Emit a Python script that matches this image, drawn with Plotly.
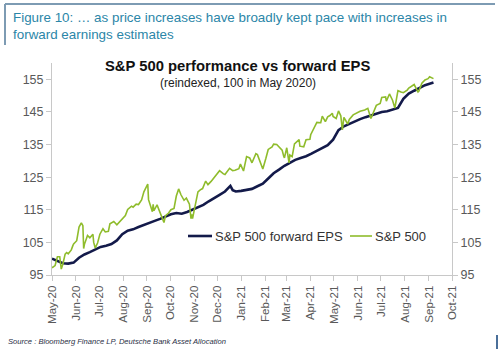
import plotly.graph_objects as go

# S&P 500, reindexed (30 Apr 2020 = 100)
spx_dates = [
    "2020-05-01", "2020-05-05", "2020-05-08", "2020-05-11", "2020-05-13", "2020-05-15",
    "2020-05-18", "2020-05-20", "2020-05-22", "2020-05-26", "2020-05-28", "2020-05-29",
    "2020-06-02", "2020-06-05", "2020-06-08", "2020-06-10", "2020-06-11", "2020-06-12",
    "2020-06-16", "2020-06-19", "2020-06-23", "2020-06-24", "2020-06-26", "2020-06-29",
    "2020-07-02", "2020-07-06", "2020-07-09", "2020-07-13", "2020-07-15", "2020-07-20",
    "2020-07-24", "2020-07-27", "2020-07-31", "2020-08-04", "2020-08-07", "2020-08-12",
    "2020-08-14", "2020-08-18", "2020-08-21", "2020-08-25", "2020-08-28", "2020-09-02",
    "2020-09-03", "2020-09-08", "2020-09-09", "2020-09-10", "2020-09-14", "2020-09-18",
    "2020-09-21", "2020-09-23", "2020-09-25", "2020-09-29", "2020-10-02", "2020-10-06",
    "2020-10-09", "2020-10-12", "2020-10-15", "2020-10-19", "2020-10-22", "2020-10-26",
    "2020-10-28", "2020-10-29", "2020-10-30", "2020-11-04", "2020-11-06", "2020-11-09",
    "2020-11-12", "2020-11-16", "2020-11-19", "2020-11-23", "2020-11-27", "2020-12-01",
    "2020-12-04", "2020-12-09", "2020-12-11", "2020-12-17", "2020-12-21", "2020-12-24",
    "2020-12-29", "2020-12-31", "2021-01-04", "2021-01-08", "2021-01-12", "2021-01-15",
    "2021-01-20", "2021-01-22", "2021-01-27", "2021-01-29", "2021-02-02", "2021-02-05",
    "2021-02-10", "2021-02-12", "2021-02-16", "2021-02-19", "2021-02-23", "2021-02-25",
    "2021-02-26", "2021-03-01", "2021-03-04", "2021-03-05", "2021-03-08", "2021-03-11",
    "2021-03-15", "2021-03-17", "2021-03-18", "2021-03-23", "2021-03-26", "2021-03-31",
    "2021-04-01", "2021-04-05", "2021-04-09", "2021-04-14", "2021-04-16", "2021-04-20",
    "2021-04-23", "2021-04-26", "2021-04-29", "2021-04-30", "2021-05-04", "2021-05-07",
    "2021-05-10", "2021-05-12", "2021-05-14", "2021-05-19", "2021-05-21", "2021-05-26",
    "2021-05-28", "2021-06-04", "2021-06-10", "2021-06-14", "2021-06-18", "2021-06-21",
    "2021-06-25", "2021-06-30", "2021-07-02", "2021-07-07", "2021-07-08", "2021-07-12",
    "2021-07-16", "2021-07-19", "2021-07-23", "2021-07-27", "2021-07-30", "2021-08-04",
    "2021-08-06", "2021-08-13", "2021-08-18", "2021-08-19", "2021-08-23", "2021-08-27",
    "2021-08-31", "2021-09-02", "2021-09-07",
]
spx_values = [
    97.2, 97.9, 100.6, 100.6, 96.8, 98.3,
    101.4, 101.9, 101.5, 102.7, 104.0, 104.5,
    105.5, 109.7, 111.0, 110.1, 103.1, 104.4,
    107.1, 106.4, 107.5, 105.0, 103.3, 104.8,
    107.5, 109.2, 108.2, 108.4, 110.7, 111.4,
    110.4, 111.1, 112.3, 113.2, 115.1, 116.1,
    115.8, 116.7, 116.6, 118.0, 120.5, 122.9,
    118.1, 114.4, 116.7, 114.7, 116.5, 114.0,
    112.7, 111.1, 113.2, 114.0, 115.0, 115.4,
    119.2, 121.4, 119.6, 117.9, 118.6, 116.7,
    112.3, 113.6, 112.3, 118.2, 120.5, 121.1,
    121.5, 123.8, 122.7, 123.7, 124.9, 125.9,
    127.0, 126.0, 125.8, 127.7, 127.0, 127.1,
    127.6, 129.0, 126.9, 131.3, 130.9, 129.4,
    132.2, 131.9, 128.8, 127.5, 130.8, 133.5,
    134.3, 135.1, 135.0, 134.2, 133.3, 131.5,
    130.9, 134.0, 129.4, 131.8, 131.3, 135.2,
    136.1, 136.5, 134.5, 134.3, 136.5, 136.6,
    138.0, 140.0, 141.8, 141.7, 143.7, 142.0,
    143.5, 143.9, 144.6, 143.6, 143.0, 145.3,
    143.8, 139.5, 143.3, 141.3, 142.7, 144.1,
    144.4, 145.2, 145.6, 146.1, 143.0, 145.0,
    147.0, 147.6, 149.4, 149.6, 148.3, 150.5,
    148.6, 146.2, 151.5, 151.1, 150.9, 151.7,
    152.3, 153.4, 151.1, 151.3, 153.8, 154.8,
    155.2, 155.8, 155.2,
]

# S&P 500 12m forward EPS, reindexed (May 2020 = 100)
eps_dates = [
    "2020-05-01", "2020-05-08", "2020-05-15", "2020-05-22", "2020-05-29", "2020-06-05",
    "2020-06-12", "2020-06-19", "2020-06-26", "2020-07-03", "2020-07-10", "2020-07-17",
    "2020-07-24", "2020-07-31", "2020-08-07", "2020-08-14", "2020-08-21", "2020-08-28",
    "2020-09-04", "2020-09-11", "2020-09-18", "2020-09-25", "2020-10-02", "2020-10-09",
    "2020-10-16", "2020-10-23", "2020-10-30", "2020-11-06", "2020-11-13", "2020-11-20",
    "2020-11-27", "2020-12-04", "2020-12-11", "2020-12-18", "2020-12-21", "2020-12-25",
    "2021-01-01", "2021-01-08", "2021-01-15", "2021-01-22", "2021-01-29", "2021-02-05",
    "2021-02-12", "2021-02-19", "2021-02-26", "2021-03-05", "2021-03-12", "2021-03-19",
    "2021-03-26", "2021-04-02", "2021-04-09", "2021-04-16", "2021-04-23", "2021-04-30",
    "2021-05-07", "2021-05-14", "2021-05-21", "2021-05-28", "2021-06-04", "2021-06-11",
    "2021-06-18", "2021-06-25", "2021-07-02", "2021-07-09", "2021-07-16", "2021-07-23",
    "2021-07-30", "2021-08-06", "2021-08-13", "2021-08-20", "2021-08-27", "2021-09-03",
    "2021-09-07",
]
eps_values = [
    100.0, 99.3, 98.6, 98.5, 98.8, 100.3,
    101.3, 102.0, 102.8, 103.6, 104.0, 104.5,
    105.6, 107.5, 108.6, 109.0, 109.7, 110.4,
    111.0, 111.6, 112.2, 112.9, 113.6, 114.0,
    113.8, 114.3, 115.0, 115.6, 116.5, 117.6,
    118.7, 119.6, 120.6, 122.3, 121.0, 120.6,
    120.8, 121.0, 121.4, 122.2, 123.0, 124.6,
    126.2, 127.3, 128.5, 129.4, 130.3, 130.9,
    131.4, 132.2, 133.0, 133.8, 134.8, 136.5,
    139.4, 140.6, 141.4, 142.1, 142.8, 143.4,
    143.9, 144.5, 145.0, 145.2, 145.6, 146.2,
    149.0, 150.6, 151.5, 152.4, 153.2, 153.7,
    154.0,
]

EPS_NAME = "S&P 500 forward EPS"
SPX_NAME = "S&P 500"
HEADER = ("Figure 10: … as price increases have broadly kept pace with increases in"
          "<br>forward earnings estimates")
TITLE = "S&P 500 performance vs forward EPS"
SUBTITLE = "(reindexed, 100 in May 2020)"
SOURCE = "Source : Bloomberg Finance LP, Deutsche Bank Asset Allocation"

FONT = "Liberation Sans, Arial, sans-serif"
AXIS_GREY = "#c8c8c8"
TICK_TEXT = "#595959"
EPS_COLOR = "#131a4a"
SPX_COLOR = "#8fbc2c"

# plot area in pixels: left 52, right 452, top 63, bottom 275
L, T, W, H = 52, 63, 400, 212


def px(x):
    return (x - L) / W


def py(y):
    return 1 - (y - T) / H


fig = go.Figure()
fig.add_trace(go.Scatter(
    x=eps_dates, y=eps_values, name=EPS_NAME, mode="lines",
    line=dict(color=EPS_COLOR, width=2.6),
))
fig.add_trace(go.Scatter(
    x=spx_dates, y=spx_values, name=SPX_NAME, mode="lines",
    line=dict(color=SPX_COLOR, width=1.6),
))
# invisible companion so the right-hand axis is drawn
fig.add_trace(go.Scatter(
    x=eps_dates, y=eps_values, yaxis="y2", mode="lines",
    line=dict(color="rgba(0,0,0,0)", width=0), hoverinfo="skip",
))

yax = dict(
    range=[95, 160], tick0=95, dtick=10, showgrid=False, zeroline=False,
    showline=True, linecolor=AXIS_GREY, linewidth=1,
    ticks="outside", ticklen=5, tickcolor=AXIS_GREY,
    tickfont=dict(family=FONT, size=12.5, color=TICK_TEXT),
)

fig.update_layout(
    width=500, height=349,
    margin=dict(l=L, r=500 - L - W, t=T, b=349 - T - H, autoexpand=False),
    paper_bgcolor="white", plot_bgcolor="white",
    font=dict(family=FONT, color="#333"),
    xaxis=dict(
        type="date", range=["2020-05-01", "2021-10-01"],
        tickmode="linear", tick0="2020-05-01", dtick="M1", tickformat="%b-%y",
        tickangle=-90, showgrid=False, zeroline=False,
        showline=True, linecolor=AXIS_GREY, linewidth=1,
        ticks="outside", ticklen=5, tickcolor=AXIS_GREY,
        tickfont=dict(family=FONT, size=11.5, color=TICK_TEXT),
    ),
    yaxis=yax,
    yaxis2=dict(yax, overlaying="y", side="right"),
    showlegend=False,
)

# in-plot legend: short line samples followed by the series names
legend_y = py(236)
legend_items = [(EPS_NAME, EPS_COLOR, 2.6, 188, 212), (SPX_NAME, SPX_COLOR, 1.6, 350, 372)]
annotations = []
for name, color, width, x0, x1 in legend_items:
    fig.add_shape(type="line", xref="paper", yref="paper",
                  x0=px(x0), x1=px(x1), y0=legend_y, y1=legend_y,
                  line=dict(color=color, width=width))
    annotations.append(dict(
        text=name, xref="paper", yref="paper", x=px(x1 + 1), y=legend_y,
        xanchor="left", yanchor="middle", showarrow=False,
        font=dict(family=FONT, size=13, color="#333")))

annotations += [
    dict(text=HEADER, xref="paper", yref="paper",
         x=px(11), y=py(8), xanchor="left", yanchor="top",
         align="left", showarrow=False,
         font=dict(family=FONT, size=13.4, color="#2b86a8")),
    dict(text="<b>" + TITLE + "</b>", xref="paper", yref="paper",
         x=px(237), y=py(66), xanchor="center", yanchor="middle",
         showarrow=False, font=dict(family=FONT, size=14.8, color="#111")),
    dict(text=SUBTITLE, xref="paper", yref="paper",
         x=px(238), y=py(83), xanchor="center", yanchor="middle",
         showarrow=False, font=dict(family=FONT, size=12, color="#222")),
    dict(text="<i>" + SOURCE + "</i>", xref="paper", yref="paper",
         x=px(6), y=py(341), xanchor="left", yanchor="middle",
         showarrow=False, font=dict(family=FONT, size=7.6, color="#2a2f45")),
]
fig.update_layout(annotations=annotations)

# frame lines around the figure header and the lower-right corner
FRAME = "#7d9bb3"
fig.add_shape(type="line", xref="paper", yref="paper",
              x0=px(5), x1=px(495), y0=py(4), y1=py(4),
              line=dict(color=FRAME, width=2))
fig.add_shape(type="line", xref="paper", yref="paper",
              x0=px(5), x1=px(5), y0=py(4), y1=py(45),
              line=dict(color=FRAME, width=2))
fig.add_shape(type="line", xref="paper", yref="paper",
              x0=px(497), x1=px(497), y0=py(335), y1=py(349),
              line=dict(color="#4a6f99", width=2))

fig.write_html("out.html")
